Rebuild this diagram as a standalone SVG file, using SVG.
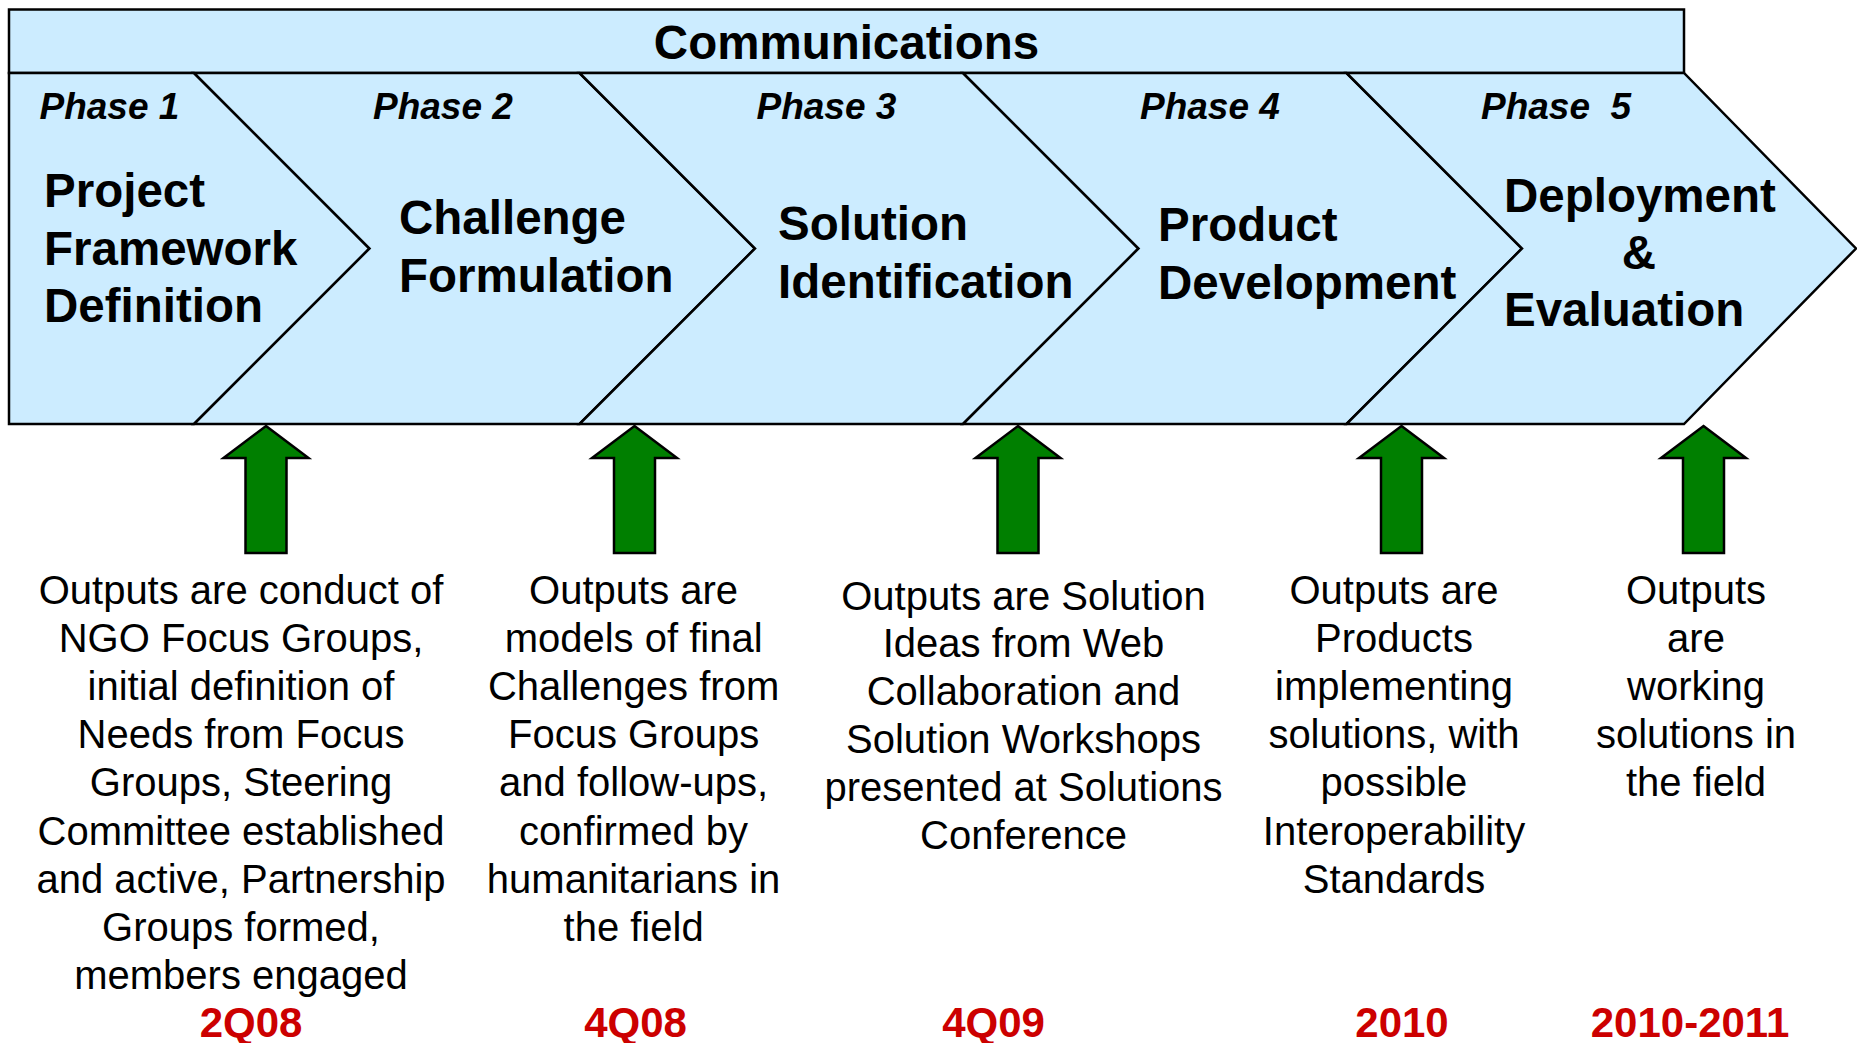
<svg xmlns="http://www.w3.org/2000/svg" width="1857" height="1043" viewBox="0 0 1857 1043">
<style>
.shape{fill:#CCECFF;stroke:#000;stroke-width:2.5;stroke-linejoin:miter}
.arrow{fill:#007F00;stroke:#000;stroke-width:2.5}
.comm{font-family:"Liberation Sans",Arial,sans-serif;font-weight:bold;font-size:47.5px;fill:#000}
.phase{font-family:"Liberation Sans",Arial,sans-serif;font-weight:bold;font-style:italic;font-size:37px;fill:#000}
.title{font-family:"Liberation Sans",Arial,sans-serif;font-weight:bold;font-size:47.5px;fill:#000}
.body{font-family:"Liberation Sans",Arial,sans-serif;font-size:40px;fill:#000;text-anchor:middle}
.date{font-family:"Liberation Sans",Arial,sans-serif;font-weight:bold;font-size:42px;fill:#CC0000;text-anchor:middle}
</style>
<rect width="1857" height="1043" fill="#fff"/>
<g id="communications">
<rect class="shape" x="9" y="9.5" width="1675" height="63.5"/>
<text class="comm" x="846.5" y="59" text-anchor="middle">Communications</text>
</g>
<g id="phase1">
<polygon class="shape" points="9,73 194,73 369.5,248.5 194,424 9,424"/>
<text class="phase" x="39.5" y="119">Phase 1</text>
<text class="title"><tspan x="44" y="206.5">Project</tspan><tspan x="44" y="265">Framework</tspan><tspan x="44" y="322">Definition</tspan></text>
</g>
<g id="phase2">
<polygon class="shape" points="194,73 579.5,73 755,248.5 579.5,424 194,424 369.5,248.5"/>
<text class="phase" x="373" y="119">Phase 2</text>
<text class="title"><tspan x="399" y="234">Challenge</tspan><tspan x="399" y="291.5">Formulation</tspan></text>
</g>
<g id="phase3">
<polygon class="shape" points="579.5,73 963,73 1138.5,248.5 963,424 579.5,424 755,248.5"/>
<text class="phase" x="756.5" y="119">Phase 3</text>
<text class="title"><tspan x="778" y="239.5">Solution</tspan><tspan x="778" y="297.5">Identification</tspan></text>
</g>
<g id="phase4">
<polygon class="shape" points="963,73 1346.5,73 1522,248.5 1346.5,424 963,424 1138.5,248.5"/>
<text class="phase" x="1140" y="119">Phase 4</text>
<text class="title"><tspan x="1158" y="241">Product</tspan><tspan x="1158" y="299">Development</tspan></text>
</g>
<g id="phase5">
<polygon class="shape" points="1346.5,73 1684,73 1856,248.5 1684,424 1346.5,424 1522,248.5"/>
<text class="phase" x="1481" y="119" xml:space="preserve">Phase  5</text>
<text class="title"><tspan x="1504" y="212">Deployment</tspan><tspan x="1639" y="269" text-anchor="middle">&amp;</tspan><tspan x="1504" y="326">Evaluation</tspan></text>
</g>
<g id="connectors">
<path class="arrow" d="M266,426 L308.5,458 L286.5,458 L286.5,553 L245.5,553 L245.5,458 L223.5,458 Z"/>
<path class="arrow" d="M634.5,426 L677,458 L655,458 L655,553 L614,553 L614,458 L592,458 Z"/>
<path class="arrow" d="M1018,426 L1060.5,458 L1038.5,458 L1038.5,553 L997.5,553 L997.5,458 L975.5,458 Z"/>
<path class="arrow" d="M1401.5,426 L1444,458 L1422,458 L1422,553 L1381,553 L1381,458 L1359,458 Z"/>
<path class="arrow" d="M1703.5,426 L1746,458 L1724,458 L1724,553 L1683,553 L1683,458 L1661,458 Z"/>
</g>
<g id="output1">
<text class="body"><tspan x="241" y="604">Outputs are conduct of</tspan><tspan x="241" y="652.1">NGO Focus Groups,</tspan><tspan x="241" y="700.2">initial definition of</tspan><tspan x="241" y="748.3">Needs from Focus</tspan><tspan x="241" y="796.4">Groups, Steering</tspan><tspan x="241" y="844.5">Committee established</tspan><tspan x="241" y="892.6">and active, Partnership</tspan><tspan x="241" y="940.7">Groups formed,</tspan><tspan x="241" y="988.8">members engaged</tspan></text>
<text class="date" x="251" y="1037">2Q08</text>
</g>
<g id="output2">
<text class="body"><tspan x="633.6" y="604">Outputs are</tspan><tspan x="633.6" y="652.1">models of final</tspan><tspan x="633.6" y="700.2">Challenges from</tspan><tspan x="633.6" y="748.3">Focus Groups</tspan><tspan x="633.6" y="796.4">and follow-ups,</tspan><tspan x="633.6" y="844.5">confirmed by</tspan><tspan x="633.6" y="892.6">humanitarians in</tspan><tspan x="633.6" y="940.7">the field</tspan></text>
<text class="date" x="635.5" y="1037">4Q08</text>
</g>
<g id="output3">
<text class="body"><tspan x="1023.5" y="609.5">Outputs are Solution</tspan><tspan x="1023.5" y="657.4">Ideas from Web</tspan><tspan x="1023.5" y="705.3">Collaboration and</tspan><tspan x="1023.5" y="753.2">Solution Workshops</tspan><tspan x="1023.5" y="801.1">presented at Solutions</tspan><tspan x="1023.5" y="849">Conference</tspan></text>
<text class="date" x="993.5" y="1037">4Q09</text>
</g>
<g id="output4">
<text class="body"><tspan x="1394" y="604">Outputs are</tspan><tspan x="1394" y="652.1">Products</tspan><tspan x="1394" y="700.2">implementing</tspan><tspan x="1394" y="748.3">solutions, with</tspan><tspan x="1394" y="796.4">possible</tspan><tspan x="1394" y="844.5">Interoperability</tspan><tspan x="1394" y="892.6">Standards</tspan></text>
<text class="date" x="1402" y="1037">2010</text>
</g>
<g id="output5">
<text class="body"><tspan x="1696" y="604">Outputs</tspan><tspan x="1696" y="652.1">are</tspan><tspan x="1696" y="700.2">working</tspan><tspan x="1696" y="748.3">solutions in</tspan><tspan x="1696" y="796.4">the field</tspan></text>
<text class="date" x="1690" y="1037">2010-2011</text>
</g>
</svg>
